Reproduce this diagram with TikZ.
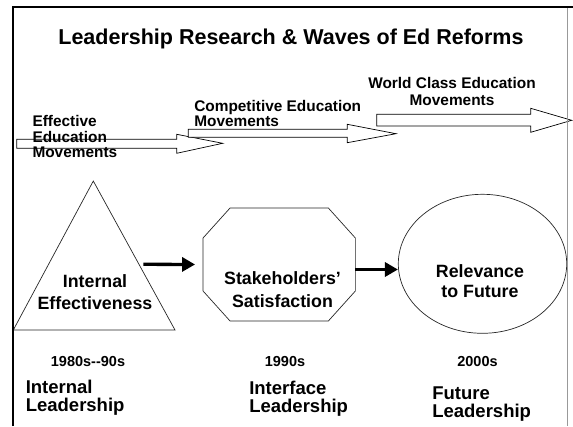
\documentclass[tikz,border=0pt]{standalone}
\usepackage{fontspec}
\setmainfont{Liberation Sans}
\usetikzlibrary{arrows.meta}
\usetikzlibrary{calc}
\usetikzlibrary{shapes.geometric}

\begin{document}
\begin{tikzpicture}[x=1pt,y=-1pt,>={Triangle[length=13pt,width=14pt]},semithick]
  \tikzstyle{every node}=[inner sep=0pt, text=black]
  \tikzstyle{wave}=[draw=black, fill=white, line width=0.7pt]
  \tikzstyle{shapeline}=[draw=black!85, line width=0.7pt]
  \tikzstyle{fat}=[->, line width=3.3pt]
  \tikzstyle{wavetxt}=[font=\fontsize{15.4}{15.5}\selectfont\bfseries]
  \tikzstyle{shapetxt}=[font=\fontsize{17.8}{22.7}\selectfont\bfseries, align=center, anchor=north]
  \tikzstyle{yeartxt}=[font=\fontsize{14.5}{17}\selectfont\bfseries, anchor=base]
  \tikzstyle{leadtxt}=[font=\fontsize{18.5}{18}\selectfont\bfseries, align=left, anchor=north west]
  \useasboundingbox (0,0) rectangle (573,426);

  % title
  \node[font=\fontsize{21.5}{26}\selectfont\bfseries, anchor=base] (title) at (291,44) {Leadership Research \& Waves of Ed Reforms};

  % waves of reform
  \draw[wave] (16.7,139.3) -- (176.7,139.3) -- (176.7,134.3) -- (222.7,143.3) -- (176.7,153.3) -- (176.7,148.3) -- (16.7,148.3) -- cycle;
  \draw[wave] (188.3,129.3) -- (347.3,129.3) -- (347.3,124.3) -- (396,133.7) -- (347.3,142.7) -- (347.3,137.3) -- (188.3,137.3) -- cycle;
  \draw[wave] (376.7,114.3) -- (530.7,114.3) -- (530.7,108.3) -- (571.7,120.3) -- (530.7,132.3) -- (530.7,126) -- (376.7,126) -- cycle;
  \node[wavetxt, align=left, anchor=north west] (effmov) at (32.2,115.5) {Effective\\Education\\Movements};
  \node[wavetxt, align=left, anchor=north west, font=\fontsize{15.4}{13.3}\selectfont\bfseries] (compmov) at (194,99.8) {Competitive Education\\Movements};
  \node[wavetxt, align=center, anchor=north, font=\fontsize{15.4}{16.7}\selectfont\bfseries] (worldmov) at (452,77.1) {World Class Education\\Movements};

  % shapes
  \coordinate (tri-top) at (93.3,181);
  \coordinate (tri-l) at (13.3,330);
  \coordinate (tri-r) at (175,330);
  \coordinate (tri-out) at (143.3,264.3);
  \draw[shapeline] (tri-top) -- (tri-r) -- (tri-l) -- cycle;
  \node[minimum width=151.7pt, minimum height=112.4pt] (oct) at (279.2,264.5) {};
  \draw[shapeline] ($(oct.north west)+(27,0)$) -- ($(oct.north east)+(-27,0)$) -- ($(oct.north east)+(0,30)$)
    -- ($(oct.south east)+(0,-30)$) -- ($(oct.south east)+(-27,0)$) -- ($(oct.south west)+(27,0)$)
    -- ($(oct.south west)+(0,-30)$) -- ($(oct.north west)+(0,30)$) -- cycle;
  \node[ellipse, shapeline, minimum width=168.4pt, minimum height=139pt] (ell) at (482.5,263.8) {};

  \node[shapetxt] (tri-txt) at (95,273.9) {Internal\\Effectiveness};
  \node[shapetxt] (oct-txt) at (282.5,271.3) {Stakeholders’\\Satisfaction};
  \node[shapetxt, font=\fontsize{17.8}{20.5}\selectfont\bfseries] (ell-txt) at (480,263.9) {Relevance\\to Future};

  \draw[fat, shorten >=8pt] (tri-out) -- (oct.west);
  \draw[fat] ([yshift=-5pt]oct.east) -- ([yshift=-5pt]oct.east -| ell.west);

  % decades
  \node[yeartxt] (y80) at (88,366.7) {1980s{-}{-}90s};
  \node[yeartxt] (y90) at (285,366.7) {1990s};
  \node[yeartxt] (y00) at (477.5,366.7) {2000s};
  \node[leadtxt] (inlead) at (25.5,380) {Internal\\Leadership};
  \node[leadtxt] (iflead) at (249,380.8) {Interface\\Leadership};
  \node[leadtxt] (fulead) at (432,386.7) {Future\\Leadership};

  % frame
  \draw[black!40, line width=0.8pt] (567,7.3) -- (567,426);
  \draw[line width=2.3pt] (13.3,426) -- (13.3,7.3) -- (573,7.3);
\end{tikzpicture}
\end{document}
